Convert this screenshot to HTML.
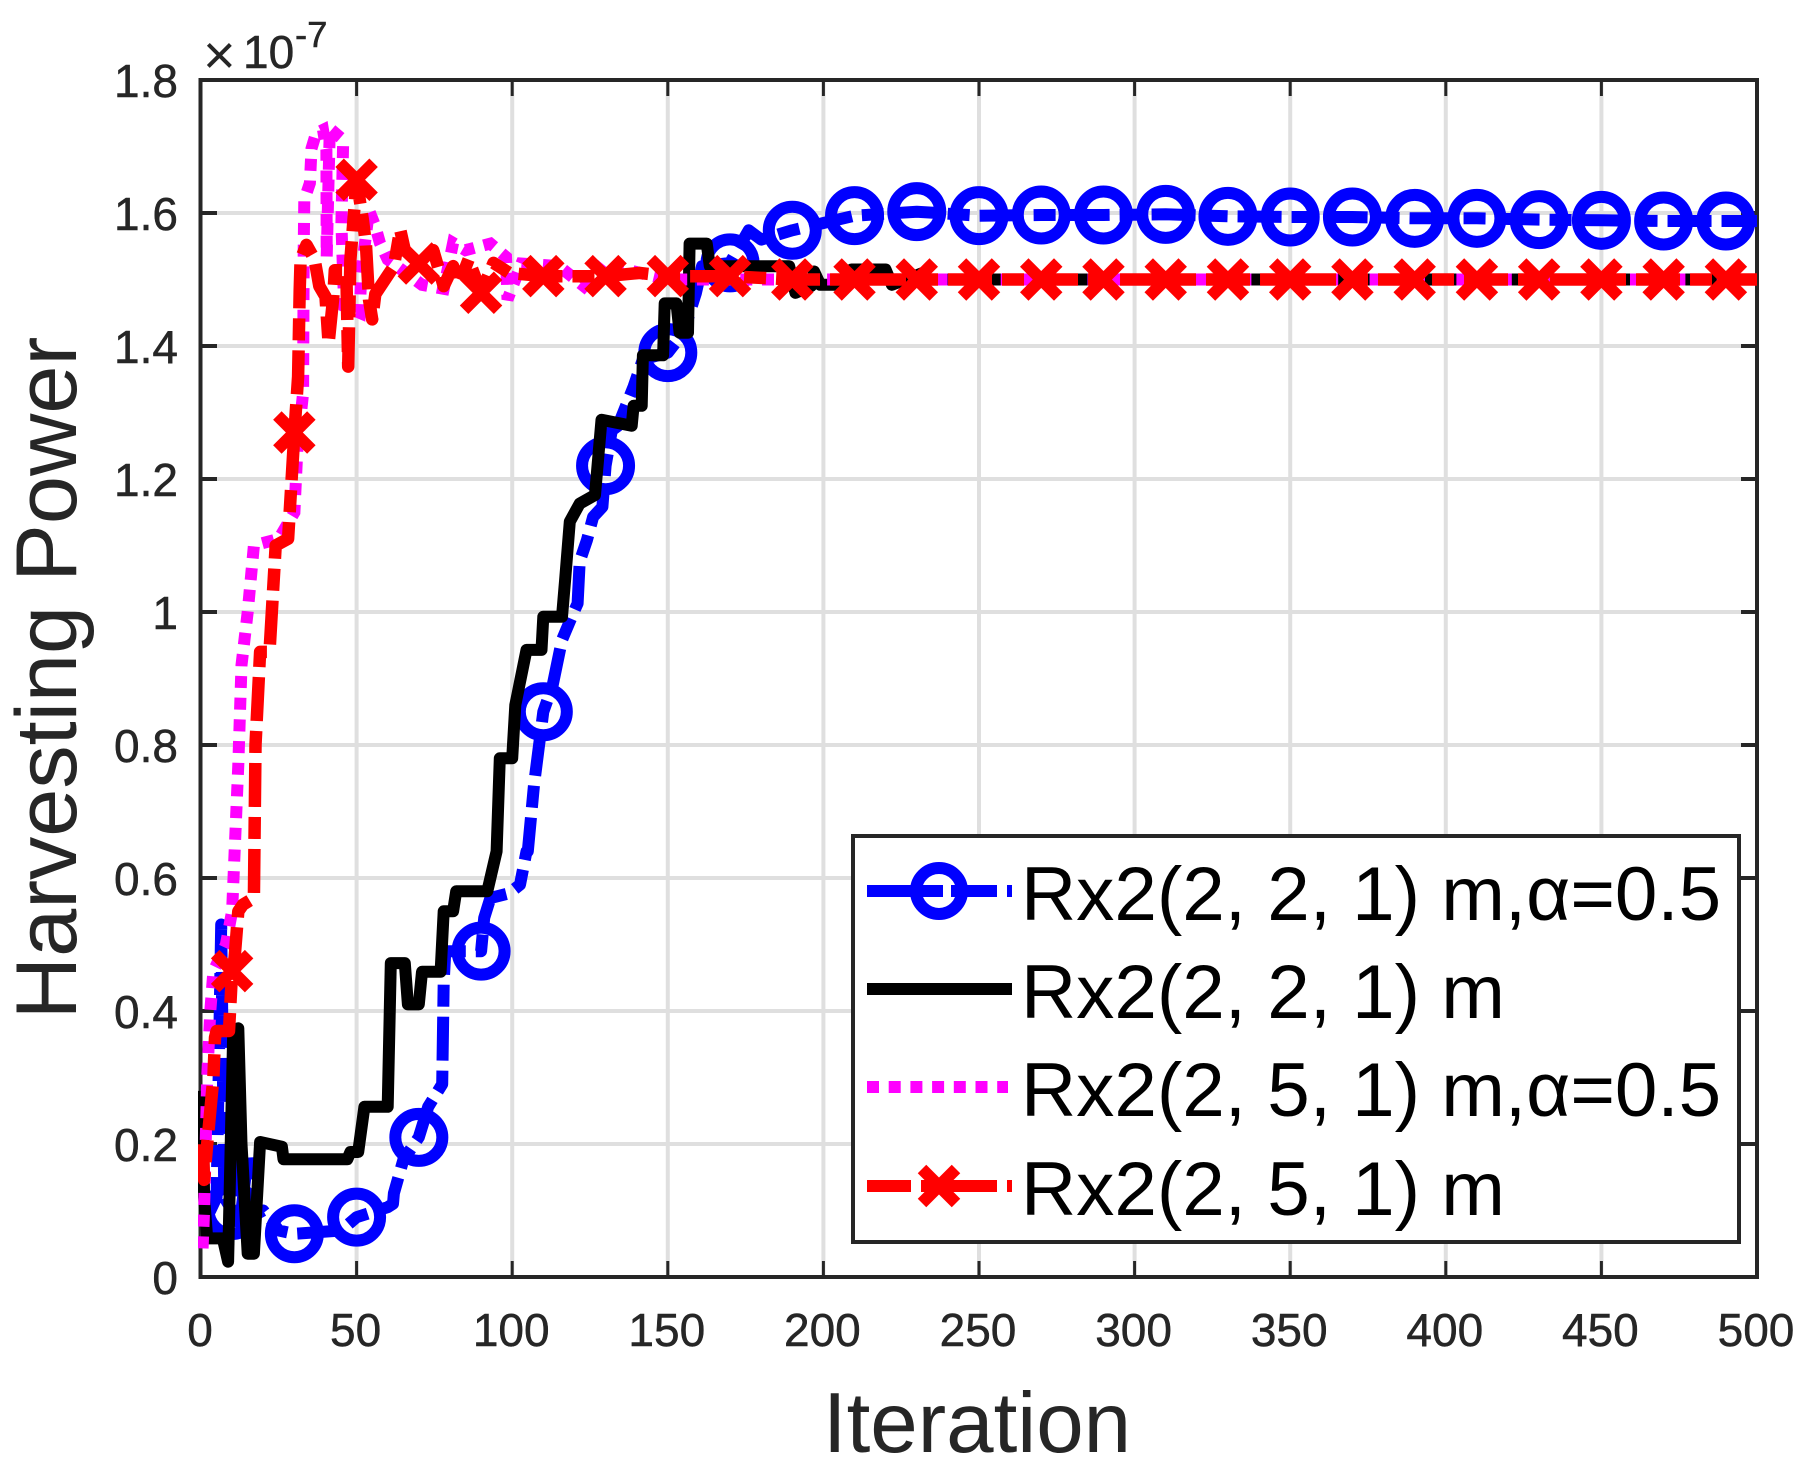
<!DOCTYPE html>
<html lang="en">
<head>
<meta charset="utf-8">
<title>Harvesting Power vs Iteration</title>
<style>
html,body{margin:0;padding:0;background:#fff;}
svg{display:block;font-family:"Liberation Sans",Arial,sans-serif;}
</style>
</head>
<body>
<svg id="chart" xmlns="http://www.w3.org/2000/svg" width="1808" height="1477" viewBox="0 0 1808 1477">
  <defs><clipPath id="plot-clip"><rect x="198" y="78" width="1561" height="1201"/></clipPath></defs>
  <rect x="0" y="0" width="1808" height="1477" fill="#fff"/>
  <g id="grid"></g>
  <g id="axes"></g>
  <g id="series" clip-path="url(#plot-clip)"></g>
  <g id="multiplier" fill="#262626">
    <text x="203" y="74" font-size="56">×</text>
    <text x="243" y="68" font-size="46" stroke="#262626" stroke-width="0.5">10</text>
    <text x="295" y="47" font-size="36.5" stroke="#262626" stroke-width="0.5">-7</text>
  </g>
  <text x="977" y="1452" font-size="85.3" text-anchor="middle" fill="#262626">Iteration</text>
  <text transform="translate(76,678) rotate(-90)" font-size="86.5" text-anchor="middle" fill="#262626">Harvesting Power</text>
  <g>
    <rect x="853" y="836" width="886" height="406" fill="#fff" stroke="#262626" stroke-width="4"/>
    <g>
      <line x1="867" y1="891" x2="1012" y2="891" stroke="#0000ff" stroke-width="12" stroke-dasharray="76 8 46 10 6 100"/>
      <circle cx="939" cy="891" r="23" fill="none" stroke="#0000ff" stroke-width="12"/>
      <text x="1021" y="920" font-size="76.4">Rx2(2, 2, 1) m,α=0.5</text>
    </g>
    <g>
      <line x1="867" y1="989" x2="1012" y2="989" stroke="#000" stroke-width="12"/>
      <text x="1021" y="1018" font-size="76.4">Rx2(2, 2, 1) m</text>
    </g>
    <g>
      <line x1="867" y1="1087" x2="1008" y2="1087" stroke="#ff00ff" stroke-width="12" stroke-dasharray="12 9.7"/>
      <text x="1021" y="1116" font-size="76.4">Rx2(2, 5, 1) m,α=0.5</text>
    </g>
    <g>
      <line x1="867" y1="1186" x2="1012" y2="1186" stroke="#ff0000" stroke-width="12" stroke-dasharray="44 10 76 10 6 100"/>
      <g stroke="#ff0000" stroke-width="12">
        <line x1="922" y1="1169" x2="956" y2="1203"/>
        <line x1="956" y1="1169" x2="922" y2="1203"/>
      </g>
      <text x="1021" y="1215" font-size="76.4">Rx2(2, 5, 1) m</text>
    </g>
  </g>
</svg>
<script>
// Chart data (values in units of 1e-7)
const xTicks = [0, 50, 100, 150, 200, 250, 300, 350, 400, 450, 500];
const yTicks = [0, 0.2, 0.4, 0.6, 0.8, 1, 1.2, 1.4, 1.6, 1.8];
const yTickLabels = ["0", "0.2", "0.4", "0.6", "0.8", "1", "1.2", "1.4", "1.6", "1.8"];
const markerIterations = [10,30,50,70,90,110,130,150,170,190,210,230,250,270,290,310,330,350,370,390,410,430,450,470,490];

const blueIterations = [1,3,5,6.5,7.5,10,11,12,12.5,15,16,20,25,30,45,50,60,61.7,62,65,70,73,77.5,78,78.5,90,91,93,99,102.5,104.6,105,107,110,113,116,119.6,121,121.7,124,126,129,130,132,134,139,142,150,155,159,161,170,176,180,190,210,230,250,270,290,310,330,350,370,390,410,430,450,470,490,500];
const blueValues = [0.09,0.1,0.12,0.53,0.12,0.1,0.1,0.22,0.08,0.18,0.09,0.1,0.07,0.065,0.07,0.09,0.105,0.11,0.126,0.176,0.21,0.256,0.29,0.444,0.49,0.49,0.54,0.57,0.577,0.59,0.64,0.64,0.74,0.85,0.89,0.958,0.998,1.013,1.076,1.108,1.143,1.158,1.22,1.273,1.28,1.339,1.38,1.39,1.42,1.479,1.52,1.525,1.574,1.56,1.574,1.596,1.602,1.596,1.597,1.597,1.598,1.595,1.594,1.594,1.592,1.592,1.59,1.589,1.588,1.588,1.588];

const blackIterations = [0.5,1,2,7,8.7,10.3,12,13,15,17,19,26,26.5,47,48,50.5,52.5,60,61,65.5,66.5,70,71,77,78,81,82,92,95,96,98,99,100,101,104.6,109.4,110,116,117,118.5,121.7,126.6,128.7,138.4,139,141.6,142,148.5,149,152.8,153.8,156.5,157,162.5,163.5,169,183,189,191,196,197,199,208,209,220,222,232,233,500];
const blackValues = [0.28,0.12,0.058,0.058,0.023,0.36,0.374,0.2,0.035,0.035,0.203,0.196,0.177,0.177,0.188,0.188,0.256,0.256,0.472,0.472,0.41,0.41,0.459,0.459,0.55,0.55,0.58,0.58,0.64,0.78,0.78,0.78,0.78,0.86,0.943,0.943,0.993,0.993,1.048,1.136,1.163,1.176,1.289,1.28,1.31,1.31,1.386,1.386,1.464,1.464,1.42,1.42,1.554,1.554,1.52,1.52,1.52,1.52,1.48,1.49,1.512,1.492,1.492,1.515,1.515,1.492,1.51,1.5,1.5];

const magentaIterations = [0.5,1,1.5,2,3,4,5,8,10,12,13,15,17,25,30,31,32.8,33,33.2,35,35.5,37,39.2,40.3,40.4,41.4,45.7,45.1,46,51,51.5,54,56,57.5,60,71,78,81,85,93,98,98.5,103,115,123,129,141,150,500];
const magentaValues = [0.043,0.1,0.2,0.3,0.4,0.46,0.47,0.5,0.55,0.77,0.92,1,1.1,1.11,1.15,1.25,1.329,1.544,1.62,1.645,1.697,1.72,1.725,1.695,1.534,1.727,1.71,1.584,1.46,1.45,1.51,1.604,1.58,1.555,1.53,1.492,1.486,1.555,1.544,1.554,1.534,1.47,1.524,1.52,1.49,1.524,1.51,1.5,1.5];

const redIterations = [0.5,1,2,3,4,4.5,5,9,10,10.8,12,13.5,17,17.5,19,22,24,28,30,31.2,31.7,32,33.9,36.5,38,40,41,42.5,43,46.7,47.3,48,49,50,52,53,54,55,56,62,64,65.5,70,74.6,78,81,83,86,90,94,99,110,130,141,150,170,190,500];
const redValues = [0.2,0.146,0.2,0.25,0.3,0.36,0.37,0.37,0.46,0.48,0.55,0.56,0.57,0.8,0.94,0.94,1.1,1.11,1.27,1.354,1.484,1.53,1.552,1.53,1.49,1.474,1.404,1.474,1.514,1.514,1.369,1.53,1.59,1.65,1.59,1.554,1.47,1.44,1.478,1.52,1.575,1.544,1.524,1.544,1.49,1.52,1.494,1.53,1.48,1.525,1.51,1.505,1.505,1.51,1.505,1.505,1.5,1.5];

// Axis functions
const NS = "http://www.w3.org/2000/svg";
const xAxis = v => 201 + v * (1556 / 500);
const yAxis = v => 1277 - v * (1197 / 1.8);
const AXIS_COLOR = "#262626";

function make(tag, attrs, parent) {
  const el = document.createElementNS(NS, tag);
  for (const k in attrs) el.setAttribute(k, attrs[k]);
  parent.appendChild(el);
  return el;
}

const gridG = document.getElementById("grid");
const axesG = document.getElementById("axes");
const seriesG = document.getElementById("series");

xTicks.forEach(t => {
  if (t === 0 || t === 500) return;
  const line = make("line", {x1: xAxis(t), x2: xAxis(t), y1: 80, y2: 1277, stroke: "#dfdfdf", "stroke-width": 4}, gridG);
  
  
});
yTicks.forEach(t => {
  if (t === 0 || t === 1.8) return;
  const line = make("line", {x1: 200.5, x2: 1757, y1: yAxis(t), y2: yAxis(t), stroke: "#dfdfdf", "stroke-width": 4}, gridG);
  
  
});

const box = make("rect", {x: 200.5, y: 80, width: 1556.5, height: 1197, fill: "none", stroke: AXIS_COLOR, "stroke-width": 4}, axesG);



xTicks.forEach(t => {
  const px = xAxis(t);
  const tickB = make("line", {x1: px, x2: px, y1: 1277, y2: 1261, stroke: AXIS_COLOR, "stroke-width": 3}, axesG);
  
  
  const tickT = make("line", {x1: px, x2: px, y1: 80, y2: 96, stroke: AXIS_COLOR, "stroke-width": 3}, axesG);
  
  
  const label = make("text", {x: px - 1, y: 1346, "font-size": 46, "text-anchor": "middle", fill: AXIS_COLOR, stroke: AXIS_COLOR, "stroke-width": 0.5}, axesG);
  
  
  label.textContent = String(t);
});
yTicks.forEach((t, i) => {
  const py = yAxis(t);
  const tickL = make("line", {x1: 200.5, x2: 217, y1: py, y2: py, stroke: AXIS_COLOR, "stroke-width": 4}, axesG);
  
  
  const tickR = make("line", {x1: 1757, x2: 1741, y1: py, y2: py, stroke: AXIS_COLOR, "stroke-width": 4}, axesG);
  
  
  const label = make("text", {x: 178, y: py + 17, "font-size": 46, "text-anchor": "end", fill: AXIS_COLOR, stroke: AXIS_COLOR, "stroke-width": 0.5}, axesG);
  
  
  label.textContent = yTickLabels[i];
});

function pathFor(iters, vals) {
  return iters.map((it, i) => (i ? "L" : "M") + xAxis(it).toFixed(1) + " " + yAxis(vals[i]).toFixed(1)).join(" ");
}
function valueAt(iters, vals, it) {
  for (let i = 0; i < iters.length - 1; i++) {
    if (iters[i] === it) return vals[i];
    if (iters[i] < it && iters[i + 1] > it) {
      return vals[i] + (vals[i + 1] - vals[i]) * (it - iters[i]) / (iters[i + 1] - iters[i]);
    }
  }
  return vals[vals.length - 1];
}

const bluePath = make("path", {d: pathFor(blueIterations, blueValues), fill: "none", stroke: "#0000ff", "stroke-width": 12, "stroke-linejoin": "round", "stroke-dasharray": "44 10 22 10"}, seriesG);


markerIterations.forEach(it => {
  const c = make("circle", {cx: xAxis(it), cy: yAxis(valueAt(blueIterations, blueValues, it)), r: 23.5, fill: "none", stroke: "#0000ff", "stroke-width": 12}, seriesG);
  
  
});

const blackPath = make("path", {d: pathFor(blackIterations, blackValues), fill: "none", stroke: "#000", "stroke-width": 12, "stroke-linejoin": "round"}, seriesG);



const magentaPath = make("path", {d: pathFor(magentaIterations, magentaValues), fill: "none", stroke: "#ff00ff", "stroke-width": 12, "stroke-dasharray": "12 9.7"}, seriesG);



const redPath = make("path", {d: pathFor(redIterations, redValues), fill: "none", stroke: "#ff0000", "stroke-width": 12.5, "stroke-linejoin": "round", "stroke-dasharray": "44 10 22 10"}, seriesG);


markerIterations.forEach(it => {
  const cx = xAxis(it), cy = yAxis(valueAt(redIterations, redValues, it)), d = 17;
  const m = make("path", {d: `M${cx - d} ${cy - d} L${cx + d} ${cy + d} M${cx + d} ${cy - d} L${cx - d} ${cy + d}`, fill: "none", stroke: "#ff0000", "stroke-width": 12}, seriesG);
  
  
});
</script>
</body>
</html>
